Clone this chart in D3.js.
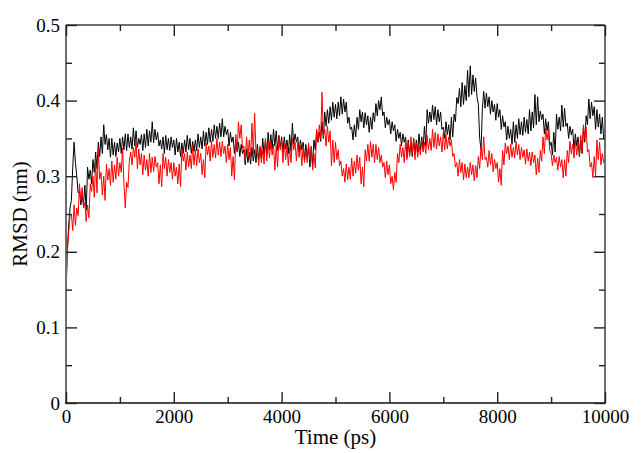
<!DOCTYPE html>
<html><head><meta charset="utf-8">
<script src="https://cdn.jsdelivr.net/npm/d3@7/dist/d3.min.js"></script>
<style>body{margin:0;background:#fff}svg{display:block}</style>
</head><body><svg id="c" width="642" height="453"></svg>
<script>
const timeStep = 25; // ps between samples
const blackRMSD = [
0.150,0.205,0.235,0.258, 0.268,0.312,0.345,0.318, 0.300,0.278,0.280,0.262, 0.275,0.262,0.288,0.255, 0.312,0.296,0.308,0.290, 0.322,0.305,0.332,0.310, 0.345,0.326,0.352,0.330, 0.368,0.342,0.355,0.335, 0.350,0.325,0.350,0.328, 0.345,0.326,0.344,0.332,
0.350,0.330,0.352,0.335, 0.356,0.334,0.356,0.338, 0.352,0.336,0.364,0.340, 0.360,0.338,0.350,0.342, 0.355,0.334,0.356,0.338, 0.362,0.340,0.360,0.345, 0.372,0.344,0.362,0.348, 0.358,0.340,0.348,0.336, 0.352,0.330,0.354,0.335, 0.350,0.334,0.352,0.338,
0.348,0.328,0.350,0.332, 0.345,0.326,0.344,0.330, 0.348,0.332,0.354,0.335, 0.350,0.330,0.346,0.333, 0.348,0.334,0.356,0.338, 0.352,0.336,0.360,0.340, 0.358,0.342,0.364,0.345, 0.362,0.346,0.368,0.350, 0.366,0.350,0.370,0.352, 0.376,0.352,0.366,0.355,
0.362,0.340,0.358,0.345, 0.352,0.330,0.348,0.333, 0.345,0.326,0.342,0.330, 0.335,0.315,0.336,0.318, 0.332,0.316,0.338,0.320, 0.335,0.318,0.342,0.322, 0.338,0.324,0.350,0.328, 0.348,0.330,0.358,0.335, 0.355,0.336,0.362,0.340, 0.360,0.334,0.354,0.338,
0.352,0.332,0.352,0.336, 0.348,0.330,0.355,0.333, 0.370,0.342,0.356,0.345, 0.352,0.332,0.348,0.335, 0.345,0.322,0.342,0.325, 0.338,0.312,0.338,0.315, 0.348,0.335,0.360,0.345, 0.358,0.346,0.372,0.350, 0.385,0.366,0.388,0.370, 0.392,0.374,0.398,0.378,
0.395,0.376,0.398,0.380, 0.405,0.382,0.402,0.385, 0.398,0.370,0.378,0.362, 0.365,0.348,0.368,0.352, 0.378,0.362,0.388,0.372, 0.385,0.364,0.384,0.368, 0.380,0.358,0.378,0.362, 0.384,0.372,0.396,0.380, 0.400,0.388,0.405,0.380, 0.385,0.364,0.378,0.368,
0.375,0.356,0.372,0.360, 0.368,0.346,0.362,0.350, 0.358,0.340,0.356,0.345, 0.352,0.325,0.348,0.328, 0.345,0.326,0.350,0.330, 0.348,0.332,0.356,0.335, 0.352,0.336,0.366,0.340, 0.388,0.370,0.385,0.372, 0.394,0.375,0.392,0.368, 0.388,0.372,0.385,0.362,
0.365,0.350,0.372,0.355, 0.368,0.348,0.378,0.352, 0.382,0.372,0.404,0.396, 0.416,0.392,0.424,0.395, 0.420,0.400,0.440,0.405, 0.446,0.408,0.434,0.412, 0.430,0.405,0.395,0.350, 0.335,0.390,0.412,0.390, 0.410,0.392,0.405,0.382, 0.400,0.385,0.395,0.374,
0.396,0.378,0.388,0.362, 0.380,0.365,0.372,0.348, 0.366,0.350,0.362,0.342, 0.372,0.345,0.368,0.350, 0.376,0.355,0.372,0.354, 0.378,0.358,0.375,0.356, 0.388,0.360,0.385,0.364, 0.408,0.368,0.405,0.372, 0.386,0.375,0.382,0.356, 0.376,0.360,0.372,0.340,
0.345,0.328,0.358,0.332, 0.382,0.362,0.378,0.360, 0.394,0.365,0.390,0.366, 0.370,0.350,0.366,0.355, 0.362,0.336,0.356,0.340, 0.352,0.326,0.348,0.330, 0.365,0.345,0.380,0.368, 0.402,0.376,0.398,0.380, 0.392,0.362,0.388,0.365, 0.382,0.356,0.378,0.350,
0.355];
const redRMSD = [
0.140,0.200,0.225,0.248, 0.250,0.228,0.262,0.235, 0.258,0.248,0.290,0.268, 0.285,0.258,0.265,0.240, 0.262,0.245,0.290,0.280, 0.300,0.272,0.320,0.278, 0.337,0.296,0.305,0.275, 0.300,0.268,0.316,0.295, 0.310,0.288,0.320,0.292, 0.315,0.296,0.325,0.300,
0.318,0.305,0.337,0.290, 0.258,0.292,0.285,0.320, 0.332,0.315,0.338,0.325, 0.345,0.310,0.336,0.315, 0.330,0.302,0.328,0.308, 0.322,0.300,0.330,0.305, 0.325,0.306,0.326,0.312, 0.318,0.290,0.315,0.286, 0.330,0.310,0.325,0.300, 0.322,0.305,0.318,0.296,
0.318,0.300,0.312,0.290, 0.316,0.286,0.336,0.320, 0.330,0.308,0.332,0.312, 0.328,0.310,0.340,0.315, 0.335,0.314,0.336,0.318, 0.330,0.302,0.322,0.298, 0.344,0.328,0.340,0.320, 0.346,0.325,0.342,0.324, 0.350,0.328,0.345,0.326, 0.346,0.330,0.340,0.318,
0.342,0.322,0.338,0.300, 0.326,0.295,0.355,0.332, 0.372,0.350,0.368,0.336, 0.340,0.320,0.352,0.325, 0.348,0.326,0.370,0.330, 0.383,0.330,0.335,0.314, 0.340,0.318,0.335,0.316, 0.350,0.320,0.345,0.324, 0.346,0.328,0.342,0.308, 0.340,0.312,0.352,0.335,
0.348,0.318,0.344,0.322, 0.340,0.314,0.338,0.318, 0.350,0.335,0.345,0.320, 0.345,0.325,0.340,0.314, 0.340,0.318,0.335,0.318, 0.344,0.322,0.340,0.308, 0.330,0.311,0.362,0.345, 0.368,0.350,0.411,0.352, 0.362,0.340,0.366,0.345, 0.360,0.314,0.348,0.318,
0.345,0.322,0.335,0.314, 0.320,0.300,0.310,0.292, 0.316,0.295,0.312,0.296, 0.324,0.300,0.320,0.304, 0.328,0.308,0.325,0.290, 0.312,0.286,0.335,0.320, 0.342,0.320,0.346,0.325, 0.342,0.318,0.342,0.322, 0.338,0.318,0.328,0.312, 0.318,0.298,0.320,0.302,
0.315,0.290,0.300,0.282, 0.305,0.292,0.330,0.318, 0.342,0.325,0.338,0.318, 0.348,0.322,0.345,0.326, 0.352,0.330,0.348,0.322, 0.344,0.325,0.340,0.328, 0.348,0.332,0.345,0.330, 0.354,0.335,0.350,0.334, 0.362,0.338,0.358,0.336, 0.356,0.340,0.352,0.332,
0.358,0.335,0.355,0.336, 0.352,0.340,0.348,0.326, 0.330,0.312,0.318,0.300, 0.322,0.305,0.318,0.295, 0.316,0.298,0.312,0.298, 0.318,0.302,0.315,0.294, 0.314,0.298,0.326,0.310, 0.340,0.322,0.352,0.322, 0.325,0.312,0.334,0.315, 0.330,0.306,0.322,0.310,
0.318,0.292,0.310,0.288, 0.334,0.315,0.344,0.330, 0.340,0.322,0.342,0.325, 0.338,0.324,0.346,0.328, 0.342,0.322,0.338,0.325, 0.335,0.316,0.336,0.320, 0.332,0.314,0.332,0.318, 0.328,0.302,0.324,0.305, 0.334,0.320,0.352,0.330, 0.364,0.348,0.361,0.334,
0.330,0.314,0.328,0.318, 0.325,0.308,0.326,0.312, 0.322,0.298,0.322,0.300, 0.334,0.318,0.346,0.330, 0.342,0.324,0.348,0.328, 0.345,0.328,0.354,0.332, 0.368,0.350,0.365,0.332, 0.335,0.312,0.318,0.298, 0.326,0.300,0.348,0.322, 0.345,0.315,0.330,0.318,
0.325];
const xMajorTicks = [0, 2000, 4000, 6000, 8000, 10000];
const xMinorTicks = [1000, 3000, 5000, 7000, 9000];
const yMajorTicks = [0, 0.1, 0.2, 0.3, 0.4, 0.5];
const yMinorTicks = [0.05, 0.15, 0.25, 0.35, 0.45];
const xTitle = "Time (ps)";
const yTitle = "RMSD (nm)";

const FONT = '"Liberation Serif", "DejaVu Serif", serif';
const svg = d3.select("#c");
const L = 66, R = 605, T = 25, B = 403;
const x = d3.scaleLinear().domain([0, 10000]).range([L, R]);
const y = d3.scaleLinear().domain([0, 0.5]).range([B, T]);

const line = d3.line().x((d, i) => x(i * timeStep)).y(d => y(d));
svg.append("path").datum(blackRMSD).attr("d", line).attr("fill", "none").attr("stroke", "#000").attr("stroke-width", 1);
svg.append("path").datum(redRMSD).attr("d", line).attr("fill", "none").attr("stroke", "#ff0000").attr("stroke-width", 1);

// frame
const fg = svg.append("g");
fg.append("line").attr("x1", L).attr("x2", R).attr("y1", T).attr("y2", T).attr("stroke", "#6e6e6e").attr("stroke-width", 2);
fg.append("line").attr("x1", L).attr("x2", L).attr("y1", T).attr("y2", B).attr("stroke", "#6e6e6e").attr("stroke-width", 2);
fg.append("line").attr("x1", R).attr("x2", R).attr("y1", T).attr("y2", B).attr("stroke", "#6e6e6e").attr("stroke-width", 2);
fg.append("line").attr("x1", L - 1).attr("x2", R + 1).attr("y1", B).attr("y2", B).attr("stroke", "#111").attr("stroke-width", 1.6);

function styleAxis(g) {
  g.select(".domain").remove();
  g.selectAll("line").attr("stroke", "#222").attr("stroke-width", 1.4);
  g.selectAll("text").style("font-family", FONT).style("font-size", "19px").attr("fill", "#000");
}
const fmtY = d => d === 0 ? "0" : d3.format(".1f")(d);
svg.append("g").attr("transform", `translate(0,${B})`).call(d3.axisBottom(x).tickValues(xMajorTicks).tickSize(-11).tickPadding(7).tickFormat(d3.format("d"))).call(styleAxis);
svg.append("g").attr("transform", `translate(0,${B})`).call(d3.axisBottom(x).tickValues(xMinorTicks).tickSize(-6).tickFormat("")).call(styleAxis);
svg.append("g").attr("transform", `translate(0,${T})`).call(d3.axisTop(x).tickValues(xMajorTicks).tickSize(-11).tickFormat("")).call(styleAxis);
svg.append("g").attr("transform", `translate(0,${T})`).call(d3.axisTop(x).tickValues(xMinorTicks).tickSize(-6).tickFormat("")).call(styleAxis);
svg.append("g").attr("transform", `translate(${L},0)`).call(d3.axisLeft(y).tickValues(yMajorTicks).tickSize(-11).tickPadding(6).tickFormat(fmtY)).call(styleAxis);
svg.append("g").attr("transform", `translate(${L},0)`).call(d3.axisLeft(y).tickValues(yMinorTicks).tickSize(-6).tickFormat("")).call(styleAxis);
svg.append("g").attr("transform", `translate(${R},0)`).call(d3.axisRight(y).tickValues(yMajorTicks).tickSize(-11).tickFormat("")).call(styleAxis);
svg.append("g").attr("transform", `translate(${R},0)`).call(d3.axisRight(y).tickValues(yMinorTicks).tickSize(-6).tickFormat("")).call(styleAxis);

svg.append("text").attr("x", (L + R) / 2).attr("y", 444).attr("text-anchor", "middle").style("font-family", FONT).style("font-size", "21px").text(xTitle);
svg.append("text").attr("transform", `translate(27,${(T + B) / 2}) rotate(-90)`).attr("text-anchor", "middle").style("font-family", FONT).style("font-size", "21px").text(yTitle);
</script></body></html>
